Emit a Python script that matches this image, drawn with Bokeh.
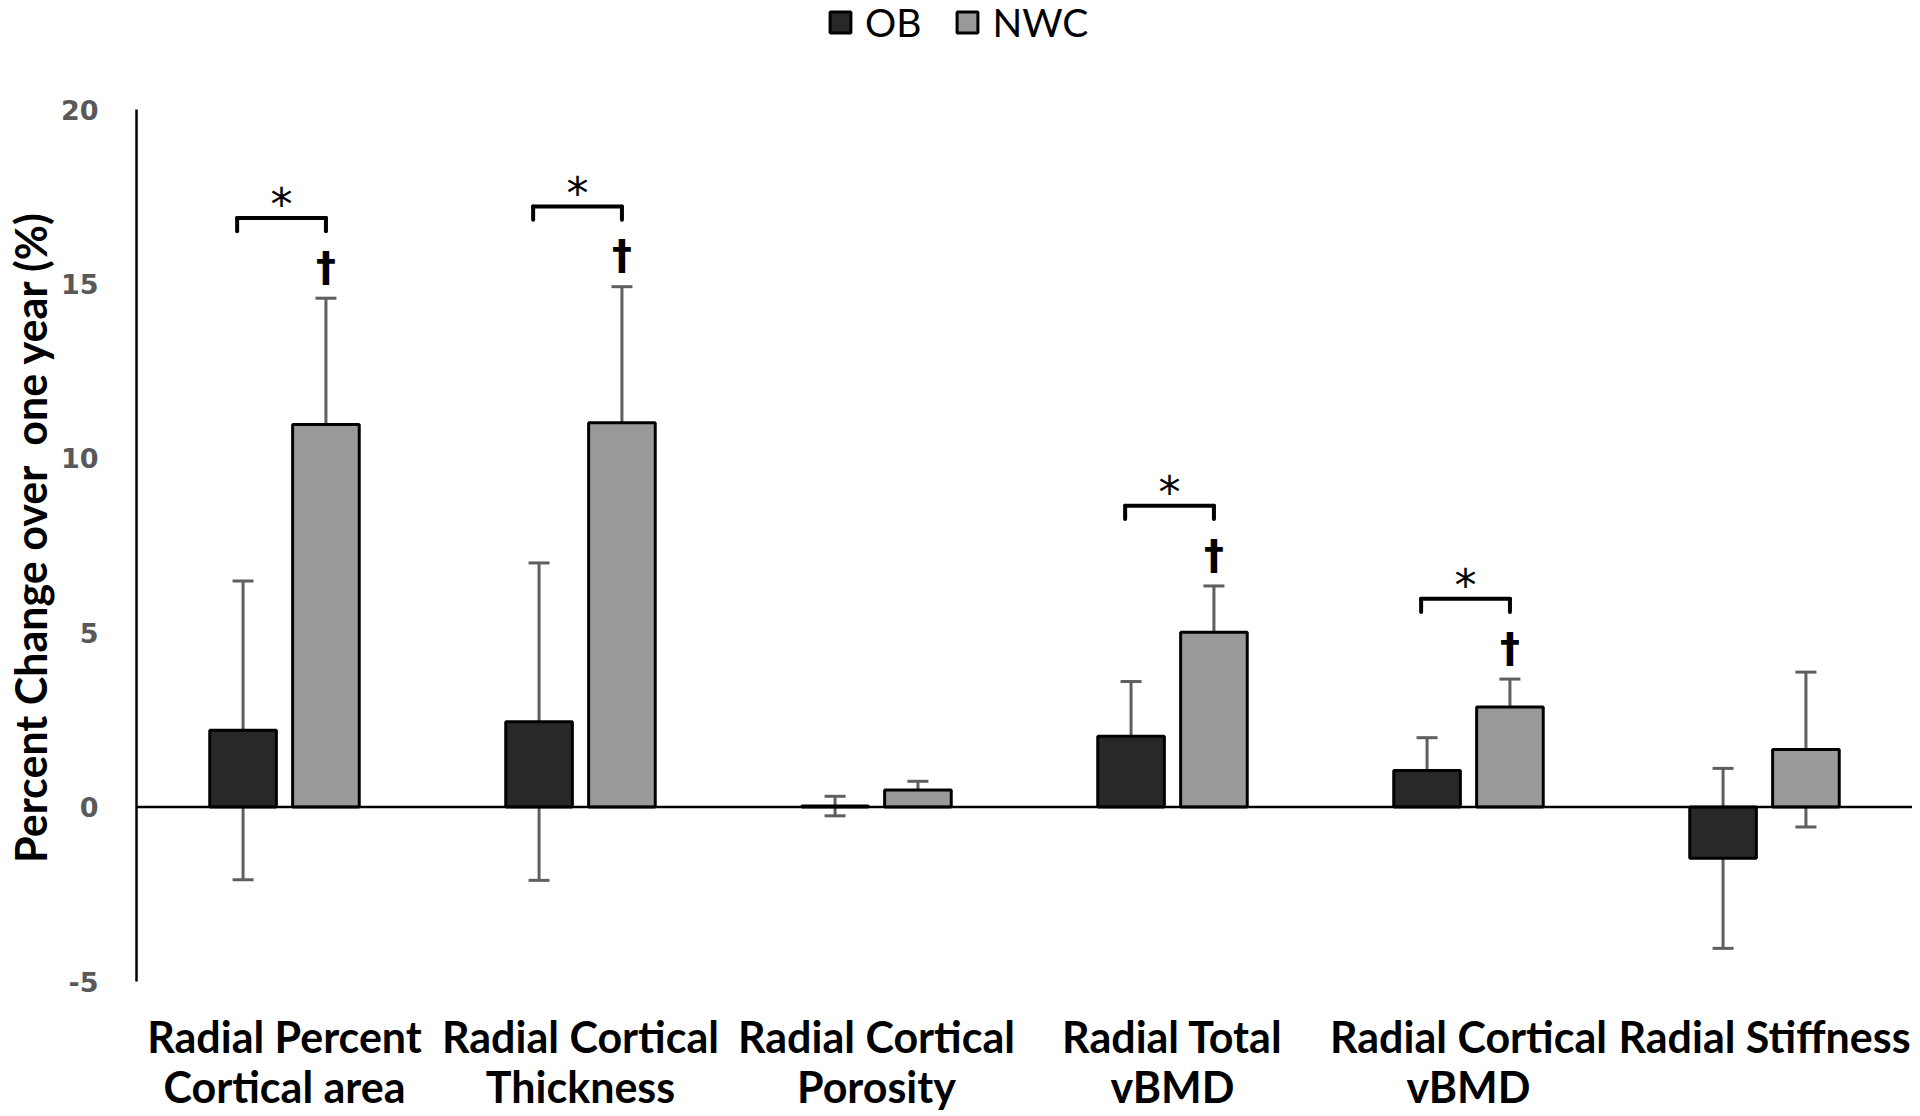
from bokeh.plotting import figure
from bokeh.models import (FactorRange, Range1d, ColumnDataSource, Whisker, TeeHead,
                          Span, Legend, LegendItem)
from bokeh.transform import dodge
from bokeh.core.properties import value
from bokeh.embed import file_html
from bokeh.resources import INLINE

label_line1 = ["Radial Percent", "Radial Cortical", "Radial Cortical", "Radial Total",
               "Radial Cortical", "Radial Stiffness"]
label_line2 = ["Cortical area", "Thickness", "Porosity", "vBMD", "vBMD", ""]
categories = [(a + " " + b).strip() for a, b in zip(label_line1, label_line2)]
ob_mean = [2.20, 2.45, 0.03, 2.03, 1.05, -1.47]
ob_err = [4.28, 4.55, 0.28, 1.57, 0.94, 2.58]
nwc_mean = [10.97, 11.02, 0.49, 5.01, 2.87, 1.65]
nwc_err = [3.62, 3.90, 0.25, 1.33, 0.80, 2.22]
sig_between = [True, True, False, True, True, False]   # * bracket (OB vs NWC)
sig_nwc = [True, True, False, True, True, False]       # dagger
y_ticks = [-5, 0, 5, 10, 15, 20]

OB_OFF, NWC_OFF, BAR_W = -0.14, 0.14, 0.225
Y_MIN, Y_MAX = -5, 20
PPU = 872 / 25.0          # pixels per unit of the value axis
FRAME_H = 1114

src = ColumnDataSource(dict(
    cat=categories, ob=ob_mean, nwc=nwc_mean,
    ob_lo=[m - e for m, e in zip(ob_mean, ob_err)],
    ob_hi=[m + e for m, e in zip(ob_mean, ob_err)],
    nwc_lo=[m - e for m, e in zip(nwc_mean, nwc_err)],
    nwc_hi=[m + e for m, e in zip(nwc_mean, nwc_err)],
))

p = figure(x_range=FactorRange(*categories),
           y_range=Range1d(Y_MIN - 133 / PPU, Y_MAX + 109 / PPU),
           frame_width=1776, frame_height=FRAME_H, x_axis_location=None,
           min_border_left=136, min_border_top=0, min_border_right=0, min_border_bottom=0,
           output_backend="svg", toolbar_location=None)
p.outline_line_color = None
p.grid.grid_line_color = None

r_ob = p.vbar(x=dodge("cat", OB_OFF, range=p.x_range), top="ob", bottom=0, width=BAR_W,
              source=src, fill_color="#282828", line_color="black", line_width=3)
r_nwc = p.vbar(x=dodge("cat", NWC_OFF, range=p.x_range), top="nwc", bottom=0, width=BAR_W,
               source=src, fill_color="#999999", line_color="black", line_width=3)

p.add_layout(Span(location=0, dimension="width", line_color="black", line_width=2.5))

for off, lo, hi in [(OB_OFF, "ob_lo", "ob_hi"), (NWC_OFF, "nwc_lo", "nwc_hi")]:
    w = Whisker(base=dodge("cat", off, range=p.x_range), lower=lo, upper=hi, source=src,
                line_color="#5f5f5f", line_width=3,
                upper_head=TeeHead(size=21, line_color="#5f5f5f", line_width=3),
                lower_head=TeeHead(size=21, line_color="#5f5f5f", line_width=3))
    p.add_layout(w)

# significance annotations
sig_cats = [c for c, s in zip(categories, sig_between) if s]
sig_top = [m + e for m, e, s in zip(nwc_mean, nwc_err, sig_between) if s]
bsrc = ColumnDataSource(dict(
    cat=sig_cats,
    yb=[t + 2.3 for t in sig_top],
    yb_end=[t + 1.92 for t in sig_top],
    ys=[t + 2.68 for t in sig_top],
))
BL, BR = OB_OFF - 0.02, NWC_OFF
for x0, x1, y1 in [(BL, BR, "yb"), (BL, BL, "yb_end"), (BR, BR, "yb_end")]:
    p.segment(x0=dodge("cat", x0, range=p.x_range), x1=dodge("cat", x1, range=p.x_range),
              y0="yb", y1=y1, source=bsrc, line_color="black", line_width=4,
              line_cap="round", line_join="round")
p.text(x=dodge("cat", (BL + BR) / 2, range=p.x_range), y="ys", text=value("*"),
       source=bsrc, text_font=value("DejaVu Sans"), text_font_size="44px", text_color="black",
       text_align="center", text_baseline="middle")

dag_cats = [c for c, s in zip(categories, sig_nwc) if s]
dag_top = [m + e for m, e, s in zip(nwc_mean, nwc_err, sig_nwc) if s]
dsrc = ColumnDataSource(dict(cat=dag_cats, yd=[t + 0.9 for t in dag_top]))
p.text(x=dodge("cat", NWC_OFF, range=p.x_range), y="yd", text=value("\u2020"), source=dsrc,
       text_font=value("DejaVu Sans"), text_font_size="40px", text_font_style="bold",
       text_color="black", text_align="center", text_baseline="middle")

# category labels (two lines below the value axis)
lsrc = ColumnDataSource(dict(
    cat=categories, l1=label_line1, l2=label_line2,
    y1=[Y_MIN - 55 / PPU] * len(categories),
    y2=[Y_MIN - 105 / PPU] * len(categories),
))
for col, ycol in [("l1", "y1"), ("l2", "y2")]:
    p.text(x="cat", y=ycol, text=col, source=lsrc, text_font=value("Lato"),
           text_font_style="bold", text_font_size="43px", text_color="black",
           text_align="center", text_baseline="alphabetic")

# value axis
p.yaxis.bounds = (Y_MIN, Y_MAX)
p.yaxis.ticker = y_ticks
p.yaxis.major_label_overrides = {t: str(t) for t in y_ticks}
p.yaxis.axis_line_color = "black"
p.yaxis.axis_line_width = 2.5
p.yaxis.major_tick_line_color = None
p.yaxis.minor_tick_line_color = None
p.yaxis.major_label_text_font = "DejaVu Sans"
p.yaxis.major_label_text_font_style = "bold"
p.yaxis.major_label_text_font_size = "27px"
p.yaxis.major_label_text_color = "#595959"
p.yaxis.major_label_standoff = 32
p.yaxis.axis_label = "\u00a0\u00a0\u00a0\u00a0Percent Change over \u00a0one year (%)"
p.yaxis.axis_label_text_font = "Lato"
p.yaxis.axis_label_text_font_style = "bold"
p.yaxis.axis_label_text_font_size = "43px"
p.yaxis.axis_label_text_line_height = 1.0
p.yaxis.axis_label_text_color = "black"
p.yaxis.axis_label_standoff = 2

legend = Legend(items=[LegendItem(label="OB", renderers=[r_ob]),
                       LegendItem(label="NWC", renderers=[r_nwc])],
                orientation="horizontal", location=(691, FRAME_H - 45),
                glyph_width=26, glyph_height=26, label_standoff=12, spacing=33,
                padding=0, margin=0, border_line_color=None, background_fill_alpha=0,
                label_text_font="Lato", label_text_font_size="39px", label_text_color="black",
                label_height=26)
p.add_layout(legend)

open("out.html", "w").write(file_html(p, INLINE))
